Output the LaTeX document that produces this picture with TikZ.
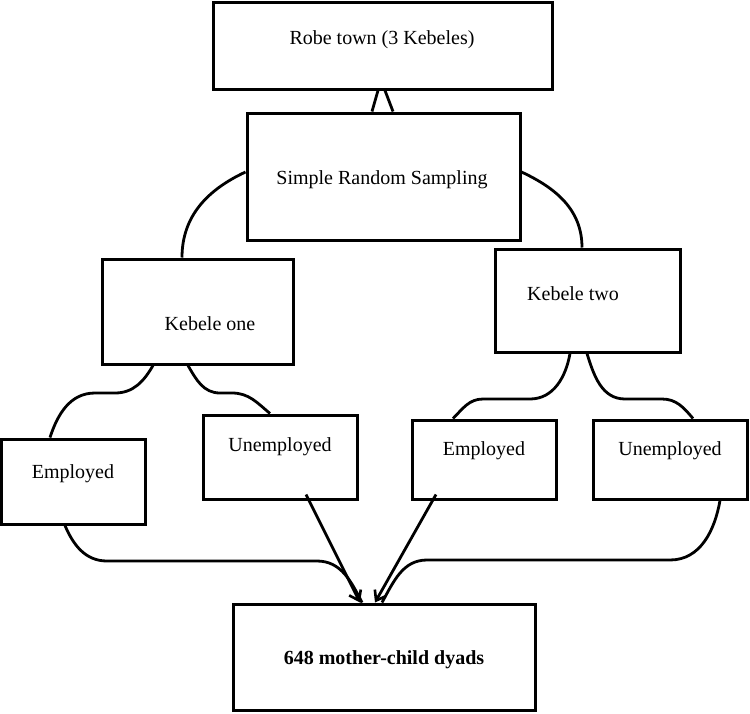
\documentclass[tikz,border=0pt]{standalone}
\usepackage{fontspec}
\setmainfont{Liberation Serif}
\usetikzlibrary{arrows.meta,calc}
\begin{document}
\begin{tikzpicture}[x=1pt,y=1pt,
  box/.style={draw=black,line width=3pt,rectangle,inner sep=0pt},
  txt/.style={font=\fontsize{20}{24}\selectfont,inner sep=0pt,anchor=center},
  conn/.style={draw=black,line width=2.8pt},
  arr/.style={conn,-{Straight Barb[length=9pt,width=13pt,line width=2.6pt]}}]
\useasboundingbox (0,0) rectangle (750,-713);
% boxes
\node[box,minimum width=339pt,minimum height=87pt] (robe) at (382.5,-45.5) {};
\node[box,minimum width=273pt,minimum height=127pt] (srs) at (383.5,-176.5) {};
\node[box,minimum width=191pt,minimum height=105pt] (k1) at (197.5,-311.5) {};
\node[box,minimum width=185pt,minimum height=103pt] (k2) at (587.5,-300.5) {};
\node[box,minimum width=143.5pt,minimum height=85pt] (e1) at (73.25,-481.5) {};
\node[box,minimum width=154pt,minimum height=84pt] (u1) at (280,-457) {};
\node[box,minimum width=144pt,minimum height=79pt] (e2) at (484,-459.5) {};
\node[box,minimum width=154pt,minimum height=79pt] (u2) at (670,-459.5) {};
\node[box,minimum width=302pt,minimum height=106pt] (f) at (384,-657) {};
% texts
\node[txt] (robe-t) at (382,-40) {Robe town (3 Kebeles)};
\node[txt] (srs-t) at (382,-180) {Simple Random Sampling};
\node[txt] (k1-t) at (210,-324) {Kebele one};
\node[txt] (k2-t) at (573,-294) {Kebele two};
\node[txt] (e1-t) at (73,-474) {Employed};
\node[txt] (u1-t) at (280,-447) {Unemployed};
\node[txt] (e2-t) at (484,-451) {Employed};
\node[txt] (u2-t) at (670,-451) {Unemployed};
\node[txt,font=\fontsize{20}{24}\selectfont\bfseries] (f-t) at (384,-660) {648 mother-child dyads};
% connectors
\draw[conn] ([xshift=-4.5pt]robe.south) -- ([xshift=-11.5pt]srs.north);
\draw[conn] ([xshift=2.5pt]robe.south) -- ([xshift=9.5pt]srs.north);
\draw[conn] ([yshift=4.5pt]srs.west) to[out=205,in=90] ([xshift=-15.5pt]k1.north);
\draw[conn] ([yshift=4.5pt]srs.east) to[out=-25,in=90] ([xshift=-5.5pt]k2.north);
\draw[conn] ([xshift=-44.5pt]k1.south) to[out=240,in=0] (115,-393) -- (95,-393) to[out=180,in=72] ([xshift=-23.25pt]e1.north);
\draw[conn] ([xshift=-9.5pt]k1.south) to[out=-60,in=180] (220,-393) -- (232,-393) to[out=0,in=140] ([xshift=-10pt]u1.north);
\draw[conn] ([xshift=-17.5pt]k2.south) to[out=260,in=0] (530,-399) -- (483,-399) to[out=180,in=45] ([xshift=-31pt]e2.north);
\draw[conn] ([xshift=-0.5pt]k2.south) to[out=-73,in=180] (625,-399) -- (662,-399) to[out=0,in=130] ([xshift=23pt]u2.north);
\draw[conn] ([xshift=-8.25pt]e1.south) to[out=-67,in=180] (107,-561) -- (317,-561) to[out=0,in=117] ([xshift=-22pt]f.north);
\draw[conn] ([xshift=50pt]u2.south) to[out=260,in=0] (670,-560) -- (427,-560) to[out=180,in=61] ([xshift=-2pt]f.north);
\draw[arr] ([xshift=26pt,yshift=6pt]u1.south) -- ([xshift=-24pt]f.north);
\draw[arr] ([xshift=-48pt,yshift=6pt]e2.south) -- ([xshift=-9pt]f.north);
\end{tikzpicture}
\end{document}
